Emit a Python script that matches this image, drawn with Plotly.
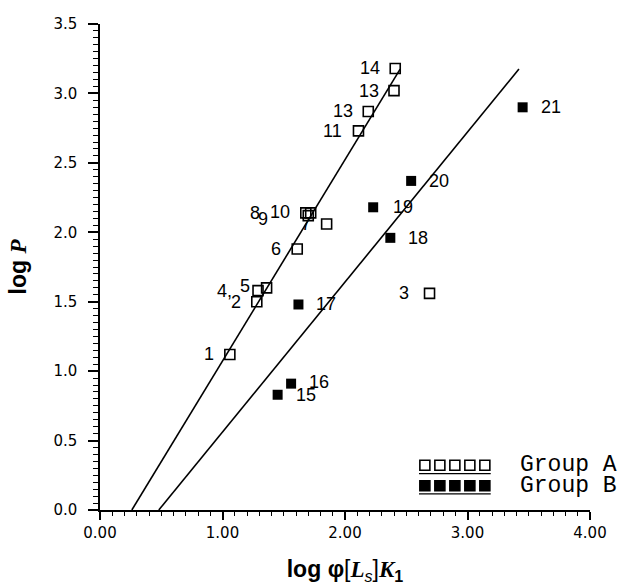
import numpy as np
import plotly.graph_objects as go

# Group A (open squares)
a_ids = ["1", "2", "3", "4,", "5", "6", "7", "8", "9", "10", "11", "13", "13", "14"]
a_x = [1.06, 1.28, 2.69, 1.29, 1.36, 1.61, 1.85, 1.68, 1.70, 1.72, 2.11, 2.19, 2.40, 2.41]
a_y = [1.12, 1.50, 1.56, 1.58, 1.60, 1.88, 2.06, 2.14, 2.12, 2.14, 2.73, 2.87, 3.02, 3.18]

# Group B (filled squares)
b_ids = ["15", "16", "17", "18", "19", "20", "21"]
b_x = [1.45, 1.56, 1.62, 2.37, 2.23, 2.54, 3.45]
b_y = [0.83, 0.91, 1.48, 1.96, 2.18, 2.37, 2.90]

# Fitted lines: y = slope * (x - x_intercept)
line_a = {"slope": 1.45, "x_intercept": 0.26, "x_end": 2.45}
line_b = {"slope": 1.08, "x_intercept": 0.48, "x_end": 3.42}

# Label placement (pixel shifts, anchor) for each point id
a_label_style = [
    (-14, 0, "right"), (-14, 0, "right"), (-19, 0, "right"), (-24, 0, "right"),
    (-15, 2, "right"), (-14, 0, "right"), (-14, 0, "right"), (-44, 0, "right"),
    (-38, -3, "right"), (-19, 1, "right"), (-14, 0, "right"), (-13, 0, "right"),
    (-13, 0, "right"), (-13, 0, "right"),
]
b_label_style = [
    (16, 0, "left"), (16, 2, "left"), (16, 0, "left"), (16, 0, "left"),
    (18, 0, "left"), (16, 0, "left"), (16, 0, "left"),
]

# Legend rows: label, marker symbol, row height (fraction of plot height)
legend_rows = [("Group A", "square-open", 0.092), ("Group B", "square", 0.050)]
legend_x0, legend_step, legend_n = 0.663, 0.0306, 5

fig = go.Figure()

for ln in (line_a, line_b):
    xs = np.array([ln["x_intercept"], ln["x_end"]])
    ys = ln["slope"] * (xs - ln["x_intercept"])
    fig.add_trace(go.Scatter(x=xs, y=ys, mode="lines",
                             line=dict(color="black", width=1.6),
                             hoverinfo="skip", showlegend=False))

fig.add_trace(go.Scatter(
    x=a_x, y=a_y, mode="markers", name="Group A", showlegend=False,
    marker=dict(symbol="square-open", size=10, color="black",
                line=dict(width=1.6, color="black")),
))
fig.add_trace(go.Scatter(
    x=b_x, y=b_y, mode="markers", name="Group B", showlegend=False,
    marker=dict(symbol="square", size=10, color="black"),
))

label_font = dict(family="Liberation Sans, Arial, sans-serif", size=18, color="black")
annotations = []
for ids, xs, ys, styles in ((a_ids, a_x, a_y, a_label_style),
                            (b_ids, b_x, b_y, b_label_style)):
    for t, x, y, (dx, dy, anchor) in zip(ids, xs, ys, styles):
        annotations.append(dict(x=x, y=y, text=t, showarrow=False,
                                xanchor=anchor, yanchor="middle",
                                xshift=dx, yshift=dy, font=label_font))

# Legend drawn on an overlay axis spanning the plot area as [0, 1]
legend_font = dict(family="Liberation Mono, Courier New, monospace", size=23, color="black")
shapes = []
for lab, sym, yp in legend_rows:
    lx = legend_x0 + legend_step * np.arange(legend_n)
    fig.add_trace(go.Scatter(
        x=lx, y=[yp] * legend_n, xaxis="x2", yaxis="y2", mode="markers",
        showlegend=False, hoverinfo="skip",
        marker=dict(symbol=sym, size=10, color="black",
                    line=dict(width=1.6, color="black")),
    ))
    shapes.append(dict(type="line", xref="paper", yref="paper",
                       x0=lx[0] - 0.012, x1=lx[-1] + 0.012,
                       y0=yp - 0.017, y1=yp - 0.017,
                       line=dict(color="black", width=1.2)))
    annotations.append(dict(xref="paper", yref="paper", x=1.059, y=yp,
                            text=lab, showarrow=False, xanchor="right",
                            yanchor="middle", font=legend_font))

x_title = ("<b>log</b> <b>φ</b>[<span style='font-family:Liberation Serif'><b><i>L</i></b></span>"
           "<sub><i>s</i></sub>]<span style='font-family:Liberation Serif'><b><i>K</i></b></span>"
           "<sub><b>1</b></sub>")
y_title = "<b>log</b> <span style='font-family:Liberation Serif'><b><i>P</i></b></span>"

axis_font = dict(family="DejaVu Sans, sans-serif", size=15, color="black")

fig.update_layout(
    width=619, height=585,
    margin=dict(l=100, r=29, t=24, b=75, autoexpand=False),
    plot_bgcolor="white", paper_bgcolor="white",
    annotations=annotations,
    shapes=shapes,
    xaxis=dict(range=[0, 4], dtick=1, tick0=0, tickformat=".2f",
               automargin=False,
               showgrid=False, zeroline=False, showline=True,
               linecolor="black", linewidth=1.5,
               ticks="outside", ticklen=8, tickwidth=1.5, tickcolor="black",
               minor=dict(dtick=0.1, ticks="outside", ticklen=4,
                          tickwidth=1.2, tickcolor="black", showgrid=False),
               tickfont=axis_font,
               title=dict(text=x_title, standoff=20,
                          font=dict(family="Liberation Sans, Arial, sans-serif",
                                    size=23, color="black"))),
    yaxis=dict(range=[0, 3.5], dtick=0.5, tick0=0, tickformat=".1f",
               automargin=False,
               showgrid=False, zeroline=False, showline=True,
               linecolor="black", linewidth=1.5,
               ticks="outside", ticklen=10, tickwidth=1.5, tickcolor="black",
               ticklabelstandoff=8,
               minor=dict(dtick=0.05, ticks="outside", ticklen=5,
                          tickwidth=1.2, tickcolor="black", showgrid=False),
               tickfont=axis_font,
               title=dict(text=y_title, standoff=20,
                          font=dict(family="Liberation Sans, Arial, sans-serif",
                                    size=23, color="black"))),
    xaxis2=dict(overlaying="x", range=[0, 1], visible=False, fixedrange=True),
    yaxis2=dict(overlaying="y", range=[0, 1], visible=False, fixedrange=True),
)

fig.write_html("out.html")
